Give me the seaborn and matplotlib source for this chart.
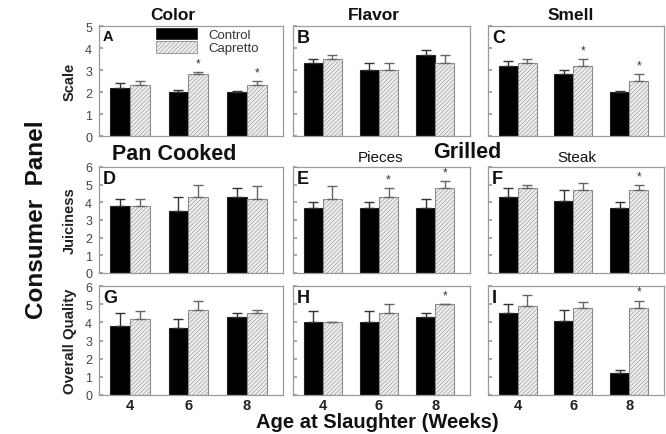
import matplotlib
matplotlib.use("Agg")
import matplotlib.pyplot as plt
from matplotlib.patches import Patch
import numpy as np
import pandas as pd
import seaborn as sns

sns.set_theme(style="white")
plt.rcParams["font.family"] = ["Liberation Sans", "DejaVu Sans"]
plt.rcParams["hatch.linewidth"] = 0.4
plt.rcParams["hatch.color"] = "#9a9a9a"

ages = ["4", "6", "8"]
groups = ["Control", "Capretto"]

# Means and standard errors per panel: (control, capretto)
color_ctrl = [2.2, 2.0, 2.0]
color_ctrl_se = [0.2, 0.1, 0.05]
color_cap = [2.3, 2.8, 2.3]
color_cap_se = [0.2, 0.1, 0.2]

flavor_ctrl = [3.3, 3.0, 3.7]
flavor_ctrl_se = [0.2, 0.3, 0.2]
flavor_cap = [3.5, 3.0, 3.3]
flavor_cap_se = [0.2, 0.3, 0.4]

smell_ctrl = [3.2, 2.8, 2.0]
smell_ctrl_se = [0.2, 0.2, 0.05]
smell_cap = [3.3, 3.2, 2.5]
smell_cap_se = [0.2, 0.3, 0.3]

juic_pan_ctrl = [3.8, 3.5, 4.3]
juic_pan_ctrl_se = [0.4, 0.8, 0.5]
juic_pan_cap = [3.8, 4.3, 4.2]
juic_pan_cap_se = [0.4, 0.7, 0.7]

juic_pieces_ctrl = [3.7, 3.7, 3.7]
juic_pieces_ctrl_se = [0.3, 0.3, 0.5]
juic_pieces_cap = [4.2, 4.3, 4.8]
juic_pieces_cap_se = [0.7, 0.5, 0.4]

juic_steak_ctrl = [4.3, 4.1, 3.7]
juic_steak_ctrl_se = [0.5, 0.6, 0.3]
juic_steak_cap = [4.8, 4.7, 4.7]
juic_steak_cap_se = [0.2, 0.4, 0.3]

qual_pan_ctrl = [3.8, 3.7, 4.3]
qual_pan_ctrl_se = [0.7, 0.5, 0.2]
qual_pan_cap = [4.2, 4.7, 4.5]
qual_pan_cap_se = [0.4, 0.5, 0.2]

qual_pieces_ctrl = [4.0, 4.0, 4.3]
qual_pieces_ctrl_se = [0.6, 0.6, 0.2]
qual_pieces_cap = [4.0, 4.5, 5.0]
qual_pieces_cap_se = [0.0, 0.5, 0.02]

qual_steak_ctrl = [4.5, 4.1, 1.2]
qual_steak_ctrl_se = [0.5, 0.6, 0.2]
qual_steak_cap = [4.9, 4.8, 4.8]
qual_steak_cap_se = [0.6, 0.3, 0.4]

# significance flags for Capretto vs Control
sig_color = [False, True, True]
sig_flavor = [False, False, False]
sig_smell = [False, True, True]
sig_jpan = [False, False, False]
sig_jpieces = [False, True, True]
sig_jsteak = [False, False, True]
sig_qpan = [False, False, False]
sig_qpieces = [False, False, True]
sig_qsteak = [False, False, True]

panels = [
    ("A", color_ctrl, color_ctrl_se, color_cap, color_cap_se, sig_color, 5),
    ("B", flavor_ctrl, flavor_ctrl_se, flavor_cap, flavor_cap_se, sig_flavor, 5),
    ("C", smell_ctrl, smell_ctrl_se, smell_cap, smell_cap_se, sig_smell, 5),
    ("D", juic_pan_ctrl, juic_pan_ctrl_se, juic_pan_cap, juic_pan_cap_se, sig_jpan, 6),
    ("E", juic_pieces_ctrl, juic_pieces_ctrl_se, juic_pieces_cap, juic_pieces_cap_se, sig_jpieces, 6),
    ("F", juic_steak_ctrl, juic_steak_ctrl_se, juic_steak_cap, juic_steak_cap_se, sig_jsteak, 6),
    ("G", qual_pan_ctrl, qual_pan_ctrl_se, qual_pan_cap, qual_pan_cap_se, sig_qpan, 6),
    ("H", qual_pieces_ctrl, qual_pieces_ctrl_se, qual_pieces_cap, qual_pieces_cap_se, sig_qpieces, 6),
    ("I", qual_steak_ctrl, qual_steak_ctrl_se, qual_steak_cap, qual_steak_cap_se, sig_qsteak, 6),
]

W, H = 666, 435
fig = plt.figure(figsize=(W / 100, H / 100), dpi=100)

# axes boxes in pixels: (left, right) per column, (top, bottom) per row
cols = [(99, 283), (293, 470), (488, 664)]
rows = [(27, 137), (168, 274), (287, 396)]

CTRL_FACE = "black"
CAP_FACE = "#efefef"
EDGE_CAP = "#8c8c8c"
SPINE = "#9a9a9a"
TICKC = "#444444"
HATCH = "////////"

axes = []
for i, (letter, c, cse, p, pse, sig, ymax) in enumerate(panels):
    r, ci = divmod(i, 3)
    l, rr = cols[ci]
    t, b = rows[r]
    ax = fig.add_axes([l / W, 1 - b / H, (rr - l) / W, (b - t) / H])
    axes.append(ax)

    df = pd.DataFrame({
        "age": ages * 2,
        "group": [groups[0]] * 3 + [groups[1]] * 3,
        "value": list(c) + list(p),
    })
    sns.barplot(data=df, x="age", y="value", hue="group", order=ages,
                hue_order=groups, palette=[CTRL_FACE, CAP_FACE],
                errorbar=None, width=0.68, legend=False, ax=ax,
                saturation=1, linewidth=0.8)

    errs = [cse, pse]
    bar_groups = list(ax.containers)
    for k, cont in enumerate(bar_groups):
        for j, bar in enumerate(cont.patches):
            if k == 1:
                bar.set_hatch(HATCH)
                bar.set_edgecolor(EDGE_CAP)
                bar.set_facecolor(CAP_FACE)
            else:
                bar.set_edgecolor("#222222")
            xc = bar.get_x() + bar.get_width() / 2
            top = bar.get_height()
            ax.errorbar([xc], [top], yerr=[[0], [errs[k][j]]], fmt="none",
                        ecolor="#333333" if k == 0 else "#666666",
                        elinewidth=1.0, capsize=3.6, capthick=1.0, zorder=1)
            if k == 1 and sig[j]:
                ax.text(xc, top + errs[k][j] + 0.12 * ymax / 5, "*",
                        ha="center", va="bottom", fontsize=8.5, color="#333333")

    ax.set_xlim(-0.53, 2.62)
    ax.set_ylim(0, ymax)
    ax.set_yticks(range(0, ymax + 1))
    ax.set_xlabel("")
    ax.set_ylabel("")
    for s in ax.spines.values():
        s.set_color(SPINE)
        s.set_linewidth(0.9)
    ax.tick_params(axis="y", direction="in", length=3, color=SPINE,
                   labelsize=9, labelcolor=TICKC, pad=5, left=True)
    ax.tick_params(axis="x", length=0, labelsize=10.5, pad=2)
    if ci != 0:
        ax.set_yticklabels([])
    if r != 2:
        ax.set_xticklabels([])
    else:
        for lab in ax.get_xticklabels():
            lab.set_fontweight("bold")
            lab.set_color("#222222")
    ax.text(0.022, 0.975, letter, transform=ax.transAxes, ha="left", va="top",
            fontsize=13 if letter != "A" else 10.5, fontweight="bold", color="#111111")

# y labels on first column
for ax, lab, fs in zip([axes[0], axes[3], axes[6]],
                       ["Scale", "Juiciness", "Overall Quality"],
                       [10.5, 10.5, 10.8]):
    ax.set_ylabel(lab, fontsize=fs, fontweight="bold", color="#222222")
    ax.yaxis.set_label_coords(-0.12, 0.5)

# legend in panel A
handles = [Patch(facecolor=CTRL_FACE, edgecolor="#222222", linewidth=0.6),
           Patch(facecolor=CAP_FACE, edgecolor=EDGE_CAP, hatch=HATCH, linewidth=0.6)]
axes[0].legend(handles, groups, loc="upper left", bbox_to_anchor=(0.31, 0.985),
               frameon=False, fontsize=9.5, handlelength=3.1, handleheight=1.0,
               handletextpad=0.9, labelspacing=0.0, borderpad=0, borderaxespad=0,
               labelcolor="#333333")

def ftext(x, y, s, **kw):
    fig.text(x / W, 1 - y / H, s, ha="center", va="center", color="#111111", **kw)

ftext(173, 16, "Color", fontsize=12.5, fontweight="bold")
ftext(374, 16, "Flavor", fontsize=12.5, fontweight="bold")
ftext(571, 16, "Smell", fontsize=12.5, fontweight="bold")
ftext(174, 155, "Pan Cooked", fontsize=15.5, fontweight="bold")
ftext(467, 152, "Grilled", fontsize=15.5, fontweight="bold")
ftext(381, 158, "Pieces", fontsize=11)
ftext(577, 158, "Steak", fontsize=11)
ftext(37, 220, "Consumer  Panel", fontsize=17.5, fontweight="bold", rotation=90)
ftext(377, 423, "Age at Slaughter (Weeks)", fontsize=14.5, fontweight="bold")

fig.savefig("out.png", dpi=100, facecolor="white")
